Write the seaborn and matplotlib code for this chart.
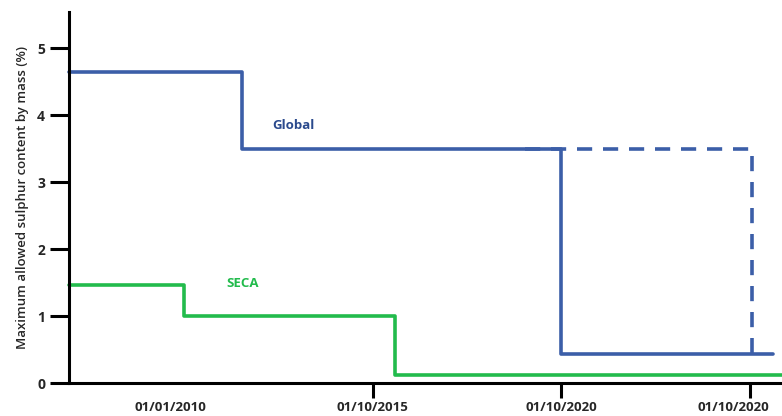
import matplotlib
matplotlib.use("Agg")
import matplotlib.pyplot as plt
import matplotlib.transforms as mtransforms
import seaborn as sns
import pandas as pd

# step positions on a tick-index axis (tick 1 = 01/10/2015, 2 and 3 = 01/10/2020)
global_x = [-0.61, 0.31, 2.0, 3.12]
global_y = [4.65, 3.5, 0.43, 0.43]
global_dash_x = [1.81, 3.01]
global_dash_y = [3.5, 0.43]
seca_x = [-0.61, 0.0, 1.12, 3.2]
seca_y = [1.47, 1.0, 0.12, 0.12]

tick_pos = [-0.07, 1, 2, 3]
tick_labels = ["01/01/2010", "01/10/2015", "01/10/2020", "01/10/2020"]

blue = "#3b5ea8"
navy = "#2b4a8d"
green = "#22bb4c"

sns.set_theme(style="white")
plt.rcParams["font.family"] = ["Open Sans", "DejaVu Sans"]

fig = plt.figure(figsize=(7.82, 4.16), dpi=100)
ax = fig.add_axes([0.088, 0.079, 0.912, 0.892])

df_global = pd.DataFrame({"x": global_x, "y": global_y})
df_dash = pd.DataFrame({"x": global_dash_x, "y": global_dash_y})
df_seca = pd.DataFrame({"x": seca_x, "y": seca_y})

sns.lineplot(data=df_global, x="x", y="y", ax=ax, color=blue, lw=2.6,
             drawstyle="steps-post", estimator=None, clip_on=False)
sns.lineplot(data=df_dash, x="x", y="y", ax=ax, color=blue, lw=2.6,
             drawstyle="steps-post", estimator=None, linestyle=(0, (4.2, 3.0)))
sns.lineplot(data=df_seca, x="x", y="y", ax=ax, color=green, lw=2.6,
             drawstyle="steps-post", estimator=None, clip_on=False)

ax.text(0.578, 3.84, "Global", color=navy, fontsize=9.5, fontweight="bold",
        ha="center", va="center")
ax.text(0.312, 1.49, "SECA", color=green, fontsize=9.5, fontweight="bold",
        ha="center", va="center")

ax.set_xlim(-0.61, 3.17)
ax.set_ylim(0, 5.54)
ax.set_yticks([0, 1, 2, 3, 4, 5])
ax.set_xticks(tick_pos)
ax.set_xticklabels(tick_labels)

for s in ["top", "right"]:
    ax.spines[s].set_visible(False)
for s in ["left", "bottom"]:
    ax.spines[s].set_color("black")
    ax.spines[s].set_linewidth(2.2)

ax.tick_params(axis="y", direction="out", length=14, width=2.2, color="black",
               left=True, pad=3, labelsize=10)
ax.tick_params(axis="x", direction="out", length=11, width=2.2, color="black",
               bottom=True, pad=2, labelsize=9.5)
ax.xaxis.get_major_ticks()[0].tick1line.set_visible(False)
for lab in ax.get_xticklabels() + ax.get_yticklabels():
    lab.set_fontweight("bold")

# last label sits a little left of its tick so it stays inside the figure
last = ax.get_xticklabels()[-1]
last.set_transform(last.get_transform() +
                   mtransforms.ScaledTranslation(-12 / 72, 0, fig.dpi_scale_trans))

ax.set_xlabel("")
ax.set_ylabel("Maximum allowed sulphur content by mass (%)", fontsize=9.5,
              fontweight="semibold", labelpad=6)

fig.savefig("out.png", dpi=100)
